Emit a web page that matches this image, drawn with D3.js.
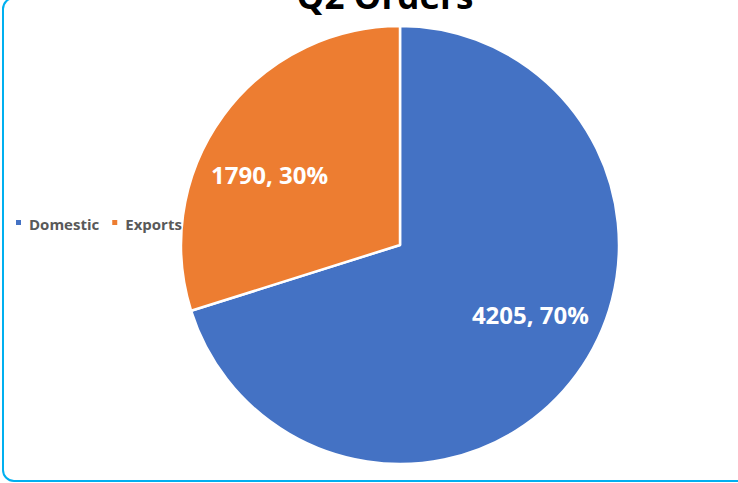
<!DOCTYPE html>
<html>
<head>
<meta charset="utf-8">
<script src="https://cdn.jsdelivr.net/npm/d3@7"></script>
<style>
  html, body { margin: 0; padding: 0; background: #fff; overflow: hidden; }
  svg { display: block; }
</style>
</head>
<body>
<svg id="chart" width="738" height="483"></svg>
<script>
const title = "Q2 Orders";
const categories = ["Domestic", "Exports"];
const values = [4205, 1790];
const percents = ["70%", "30%"];
const colors = ["#4472C4", "#ED7D31"];

const W = 738, H = 483;
const svg = d3.select("#chart");

// outer rounded border (extends past right edge like the reference)
svg.append("rect")
  .attr("x", 3).attr("y", -2)
  .attr("width", 760).attr("height", 483)
  .attr("rx", 11).attr("ry", 11)
  .attr("fill", "#fff")
  .attr("stroke", "#00B0F0")
  .attr("stroke-width", 2);

// title (cut off at top, as in the reference)
svg.append("text")
  .attr("x", 385).attr("y", 9)
  .attr("text-anchor", "middle")
  .attr("font-family", "'Open Sans', 'Noto Sans', sans-serif")
  .attr("font-weight", "bold")
  .attr("font-size", 35)
  .attr("fill", "#000")
  .text(title);

const cx = 400, cy = 245, R = 219;
const data = categories.map((c, i) => ({ cat: c, value: values[i], pct: percents[i], color: colors[i] }));

const pie = d3.pie().value(d => d.value).sort(null);
const arcs = pie(data);
const arc = d3.arc().innerRadius(0).outerRadius(R);
const labelR = R * 0.676;
const angOffset = -8 * Math.PI / 180;

const g = svg.append("g").attr("transform", `translate(${cx},${cy})`);
g.selectAll("path").data(arcs).join("path")
  .attr("d", arc)
  .attr("fill", d => d.data.color)
  .attr("stroke", "#fff")
  .attr("stroke-width", 2.5)
  .attr("stroke-linejoin", "round");

g.selectAll("text.lbl").data(arcs).join("text")
  .attr("class", "lbl")
  .attr("x", d => labelR * Math.sin((d.startAngle + d.endAngle) / 2 + angOffset))
  .attr("y", d => -labelR * Math.cos((d.startAngle + d.endAngle) / 2 + angOffset))
  .attr("dy", "0.36em")
  .attr("text-anchor", "middle")
  .attr("font-family", "'Open Sans', 'Noto Sans', sans-serif")
  .attr("font-weight", "bold")
  .attr("font-size", 24)
  .attr("fill", "#fff")
  .text(d => `${d.data.value}, ${d.data.pct}`);

// legend
const legend = svg.append("g").attr("transform", "translate(16,224)");
let lx = 0;
categories.forEach((c, i) => {
  const item = legend.append("g").attr("transform", `translate(${lx},0)`);
  item.append("rect").attr("x", 0).attr("y", -4).attr("width", 5).attr("height", 5).attr("fill", colors[i]);
  const t = item.append("text")
    .attr("x", 13).attr("y", 6)
    .attr("font-family", "'Open Sans', 'Noto Sans', sans-serif")
    .attr("font-weight", "bold")
    .attr("font-size", 15)
    .attr("fill", "#595959")
    .text(c);
  lx += 13 + t.node().getComputedTextLength() + 13;
});
</script>
</body>
</html>
